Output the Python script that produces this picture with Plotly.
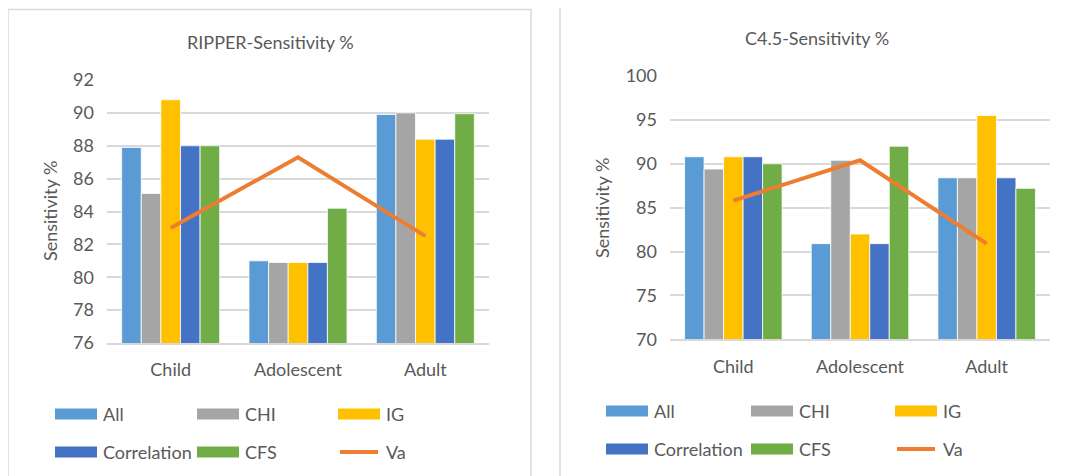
import plotly.graph_objects as go

W, H = 1070, 476
PAGE_OFFSET = 8  # default body margin of the html page

categories = ["Child", "Adolescent", "Adult"]
series_names = ["All", "CHI", "IG", "Correlation", "CFS"]
line_name = "Va"

ripper_all = [87.9, 81.0, 89.9]
ripper_chi = [85.1, 80.9, 90.0]
ripper_ig = [90.8, 80.9, 88.4]
ripper_corr = [88.0, 80.9, 88.4]
ripper_cfs = [88.0, 84.2, 89.95]
ripper_va = [83.0, 87.3, 82.5]

c45_all = [90.8, 80.9, 88.4]
c45_chi = [89.4, 90.4, 88.4]
c45_ig = [90.8, 82.0, 95.5]
c45_corr = [90.8, 80.9, 88.4]
c45_cfs = [90.0, 92.0, 87.2]
c45_va = [85.8, 90.4, 80.9]

ripper_ticks = [76, 78, 80, 82, 84, 86, 88, 90, 92]
c45_ticks = [70, 75, 80, 85, 90, 95, 100]

colors = ["#5B9BD5", "#A5A5A5", "#FFC000", "#4472C4", "#70AD47"]
line_color = "#ED7D31"
text_color = "#595959"
grid_color = "#D9D9D9"
FONT = "Lato"


def px(x):
    return (x - PAGE_OFFSET) / W


def py(y):
    return 1 - (y - PAGE_OFFSET) / H


fig = go.Figure()

ripper_bars = [ripper_all, ripper_chi, ripper_ig, ripper_corr, ripper_cfs]
c45_bars = [c45_all, c45_chi, c45_ig, c45_corr, c45_cfs]

for name, col, vals in zip(series_names, colors, ripper_bars):
    fig.add_trace(go.Bar(x=categories, y=vals, name=name, marker_color=col,
                         marker_line=dict(color="white", width=0.8),
                         xaxis="x", yaxis="y", showlegend=False))
fig.add_trace(go.Scatter(x=categories, y=ripper_va, name=line_name, mode="lines",
                         line=dict(color=line_color, width=4),
                         xaxis="x", yaxis="y", showlegend=False))

for name, col, vals in zip(series_names, colors, c45_bars):
    fig.add_trace(go.Bar(x=categories, y=vals, name=name, marker_color=col,
                         marker_line=dict(color="white", width=0.8),
                         xaxis="x2", yaxis="y2", showlegend=False))
fig.add_trace(go.Scatter(x=categories, y=c45_va, name=line_name, mode="lines",
                         line=dict(color=line_color, width=4),
                         xaxis="x2", yaxis="y2", showlegend=False))

tickfont = dict(family=FONT, size=18, color=text_color)

xaxis_common = dict(showline=True, linecolor=grid_color, linewidth=1.5,
                    showgrid=False, ticks="", tickfont=tickfont, automargin=False,
                    ticklabelstandoff=10, fixedrange=True)
yaxis_common = dict(showline=False, showgrid=True, gridcolor=grid_color, gridwidth=1.5,
                    zeroline=False, ticks="", tickfont=tickfont, automargin=False,
                    ticklabelstandoff=12, fixedrange=True)

fig.update_layout(
    template="none",
    width=W, height=H, autosize=False,
    margin=dict(l=0, r=0, t=0, b=0, pad=0),
    paper_bgcolor="white", plot_bgcolor="white",
    barmode="group", bargap=0.23, bargroupgap=0,
    font=dict(family=FONT, color=text_color),
    xaxis=dict(domain=[px(107), px(489)], anchor="y", **xaxis_common),
    yaxis=dict(domain=[py(343), py(80)], anchor="x", range=[76, 92],
               tickvals=ripper_ticks, **yaxis_common),
    xaxis2=dict(domain=[px(670), px(1050)], anchor="y2", **xaxis_common),
    yaxis2=dict(domain=[py(339.3), py(76)], anchor="x2", range=[70, 100],
                tickvals=c45_ticks, **yaxis_common),
)

shapes = []
annotations = []

# chart borders
shapes.append(dict(type="rect", xref="paper", yref="paper",
                   x0=px(8), x1=px(531), y0=py(500), y1=py(9.5),
                   line=dict(color=grid_color, width=1.5), fillcolor="rgba(0,0,0,0)",
                   layer="below"))
shapes.append(dict(type="rect", xref="paper", yref="paper",
                   x0=px(560), x1=px(1090), y0=py(500), y1=py(7),
                   line=dict(color=grid_color, width=1.5), fillcolor="rgba(0,0,0,0)",
                   layer="below"))

# titles
annotations.append(dict(text="RIPPER-Sensitivity %", xref="paper", yref="paper",
                        x=px(270), y=py(42), showarrow=False, xanchor="center", yanchor="middle",
                        font=dict(family=FONT, size=18, color=text_color)))
annotations.append(dict(text="C4.5-Sensitivity %", xref="paper", yref="paper",
                        x=px(817), y=py(38), showarrow=False, xanchor="center", yanchor="middle",
                        font=dict(family=FONT, size=18, color=text_color)))
# y axis titles
annotations.append(dict(text="Sensitivity %", xref="paper", yref="paper",
                        x=px(50), y=py(211), showarrow=False, textangle=-90,
                        xanchor="center", yanchor="middle",
                        font=dict(family=FONT, size=18, color=text_color)))
annotations.append(dict(text="Sensitivity %", xref="paper", yref="paper",
                        x=px(602), y=py(208), showarrow=False, textangle=-90,
                        xanchor="center", yanchor="middle",
                        font=dict(family=FONT, size=18, color=text_color)))


def add_legend(col_x, row_y):
    names = series_names + [line_name]
    cols = colors + [line_color]
    for i, (nm, cl) in enumerate(zip(names, cols)):
        r, c = divmod(i, 3)
        x0 = col_x[c]
        yc = row_y[r]
        if nm == line_name:
            shapes.append(dict(type="line", xref="paper", yref="paper",
                               x0=px(x0 + 2), x1=px(x0 + 40), y0=py(yc), y1=py(yc),
                               line=dict(color=cl, width=4)))
        else:
            shapes.append(dict(type="rect", xref="paper", yref="paper",
                               x0=px(x0), x1=px(x0 + 42), y0=py(yc + 5.5), y1=py(yc - 5.5),
                               line=dict(width=0), fillcolor=cl))
        annotations.append(dict(text=nm, xref="paper", yref="paper",
                                x=px(x0 + 46), y=py(yc), showarrow=False,
                                xanchor="left", yanchor="middle",
                                font=dict(family=FONT, size=18, color=text_color)))


add_legend([55, 197, 338], [414, 452])
add_legend([606, 751, 895], [411, 449])

fig.update_layout(shapes=shapes, annotations=annotations)

fig.write_html("out.html")
